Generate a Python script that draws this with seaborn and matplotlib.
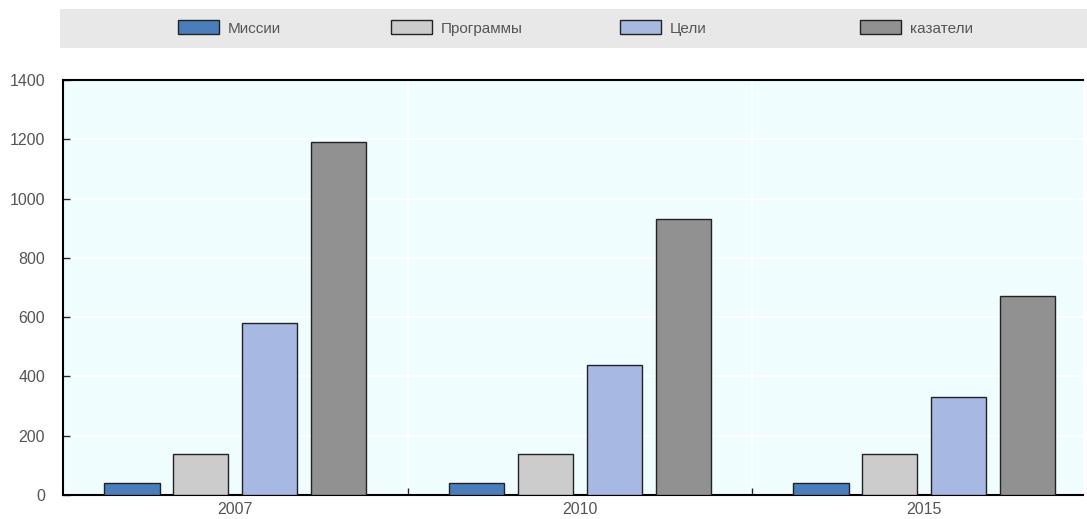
import pandas as pd
import numpy as np
import matplotlib
matplotlib.use("Agg")
import matplotlib.pyplot as plt
import seaborn as sns
from matplotlib.patches import Rectangle, Patch
from matplotlib.ticker import FixedLocator

# data
years = ["2007", "2010", "2015"]
series = ["Миссии", "Программы", "Цели", "казатели"]
missii = [40, 40, 40]
programmy = [140, 140, 140]
tseli = [580, 440, 330]
kazateli = [1190, 930, 670]
colors = ["#4A7EBB", "#CCCCCC", "#A7B9E3", "#919191"]

df = pd.DataFrame({
    "year": years * 4,
    "series": np.repeat(series, len(years)),
    "value": missii + programmy + tseli + kazateli,
})

sns.set_style("white")
plt.rcParams["font.family"] = ["Liberation Sans Narrow", "Liberation Sans", "DejaVu Sans"]

fig = plt.figure(figsize=(10.87, 5.19), dpi=100)
ax = fig.add_axes([0.058, 0.0462, 0.9382, 0.7997])
ax.set_facecolor("#F0FDFF")

sns.barplot(data=df, x="year", y="value", hue="series", hue_order=series,
            palette=colors, saturation=1, width=0.8, gap=0.2,
            edgecolor="#222222", linewidth=1.0, ax=ax, legend=False, zorder=3)

ax.set_xlim(-0.5, 2.46)
ax.set_ylim(0, 1400)
ax.set_yticks(range(0, 1401, 200))
ax.xaxis.set_minor_locator(FixedLocator([0.5, 1.5]))
ax.grid(True, axis="y", color="white", linewidth=1.2, zorder=0)
ax.grid(True, axis="x", which="minor", color="white", linewidth=1.2, zorder=0)
ax.set_axisbelow(True)
ax.set_xlabel("")
ax.set_ylabel("")

for s in ["left", "bottom", "top"]:
    ax.spines[s].set_color("black")
    ax.spines[s].set_linewidth(1.5)
ax.spines["right"].set_visible(False)

ax.tick_params(axis="y", direction="in", length=5, width=1, pad=13,
               labelsize=11.5, labelcolor="#555555", left=True)
ax.tick_params(axis="x", which="major", length=0, pad=5,
               labelsize=11.5, labelcolor="#555555")
ax.tick_params(axis="x", which="minor", direction="in", length=5, width=1,
               bottom=True)

# legend band
fig.patches.append(Rectangle((60 / 1087, 1 - 48 / 519), 1027 / 1087, 39 / 519,
                             transform=fig.transFigure, facecolor="#E8E8E8",
                             edgecolor="none", zorder=0))
handle_x = [178, 391, 620, 860]
for name, col, hx in zip(series, colors, handle_x):
    h = Patch(facecolor=col, edgecolor="#222222", linewidth=1.0)
    fig.legend(handles=[h], labels=[name], loc="center left",
               bbox_to_anchor=(hx / 1087, 1 - 28 / 519), frameon=False,
               borderaxespad=0, borderpad=0, handlelength=2.7,
               handleheight=1.0, handletextpad=0.55, fontsize=11,
               labelcolor="#555555")

fig.savefig("out.png", dpi=100)
